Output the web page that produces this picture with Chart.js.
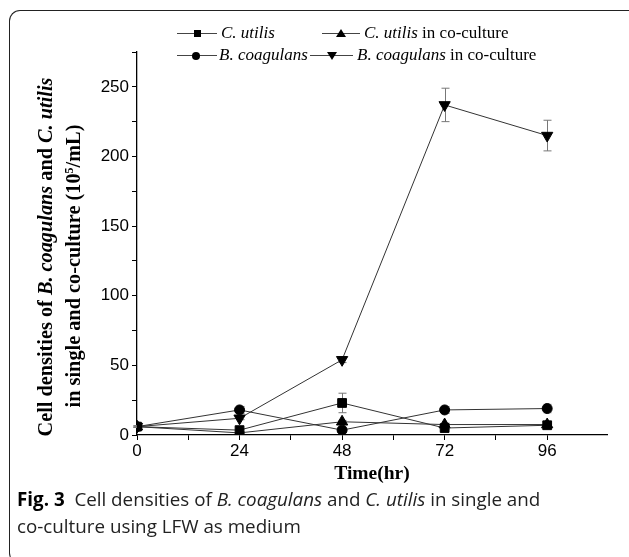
<!DOCTYPE html>
<html>
<head>
<meta charset="utf-8">
<script src="https://cdn.jsdelivr.net/npm/chart.js@4/dist/chart.umd.min.js"></script>
<style>
  html, body { margin: 0; padding: 0; background: #fff; }
  #wrap { position: relative; width: 629px; height: 557px; overflow: hidden; background: #fff; }
  #c { position: absolute; left: 0; top: 0; }
  .frame { position: absolute; left: 9px; top: 10px; width: 660px; height: 552px;
           border-left: 1.5px solid #222; border-top: 1.5px solid #222; border-bottom: 1.5px solid #222;
           border-top-left-radius: 11px; border-bottom-left-radius: 11px; }
  .leg { position: absolute; font-family: "Liberation Serif", "Times New Roman", serif; font-size: 17px; color: #000; white-space: nowrap; line-height: 1; }
  .legline { position: absolute; height: 1px; background: #444; }
  .mk { position: absolute; }
  .ytitle { position: absolute; font-family: "Liberation Serif", serif; font-weight: bold; font-size: 20.3px; color: #000;
            white-space: nowrap; transform: translate(-50%, -50%) rotate(-90deg); line-height: 1; }
  .xtitle { position: absolute; font-family: "Liberation Serif", serif; font-weight: bold; font-size: 19.5px; color: #000;
            white-space: nowrap; transform: translate(-50%, -50%); line-height: 1; }
  .cap { position: absolute; left: 17px; font-family: "Open Sans", "Noto Sans", sans-serif; font-size: 18.8px; color: #222;
         white-space: nowrap; line-height: 1; }
  sup { font-size: 12px; vertical-align: 7px; line-height: 0; }
</style>
</head>
<body>
<div id="wrap">
  <canvas id="c" width="629" height="557"></canvas>
  <div class="frame"></div>
  <div id="legend"></div>
  <div class="ytitle" style="left:45px; top:257px;">Cell densities of <i>B. coagulans</i> and <i>C. utilis</i></div>
  <div class="ytitle" style="left:73px; top:266px;">in single and co-culture (10<sup>5</sup>/mL)</div>
  <div class="xtitle" style="left:372px; top:473px;">Time(hr)</div>
  <div class="cap" style="top:490px;"><b style="color:#000">Fig. 3</b>&nbsp; Cell densities of <i>B. coagulans</i> and <i>C. utilis</i> in single and</div>
  <div class="cap" style="top:517px;">co-culture using LFW as medium</div>
</div>
<script>
// ---- data ----
const times = [0, 24, 48, 72, 96];
const seriesNames = ["C. utilis", "B. coagulans", "C. utilis in co-culture", "B. coagulans in co-culture"];
const cUtilis = [6, 3.5, 23, 5, 7];
const cUtilisErr = [0.5, 1, 7, 1, 1];
const bCoag = [6, 18, 3.5, 18, 19];
const bCoagErr = [0.5, 2.5, 1, 2.5, 3];
const cUtilisCo = [6, 1.5, 9.5, 7.5, 7.5];
const cUtilisCoErr = [0, 0.5, 1, 1, 1];
const bCoagCo = [6, 12, 54, 237, 215];
const bCoagCoErr = [0.5, 1, 2, 12, 11];
const yTickLabels = [0, 50, 100, 150, 200, 250];
const xTickLabels = [0, 24, 48, 72, 96];

const pts = vals => times.map((t, i) => ({ x: t, y: vals[i] }));
const base = { borderColor: '#333', borderWidth: 1, pointBackgroundColor: '#000', pointBorderColor: '#000',
               pointBorderWidth: 1, tension: 0, fill: false };

const datasets = [
  Object.assign({}, base, { label: seriesNames[0], data: pts(cUtilis), err: cUtilisErr, pointStyle: 'rect', pointRadius: 6.2 }),
  Object.assign({}, base, { label: seriesNames[1], data: pts(bCoag), err: bCoagErr, pointStyle: 'circle', pointRadius: 5 }),
  Object.assign({}, base, { label: seriesNames[2], data: pts(cUtilisCo), err: cUtilisCoErr, pointStyle: 'triangle', pointRadius: 6.5 }),
  Object.assign({}, base, { label: seriesNames[3], data: pts(bCoagCo), err: bCoagCoErr, pointStyle: 'triangle', pointRotation: 180, pointRadius: 6.5 })
];

const errorBars = {
  id: 'errorBars',
  beforeDatasetsDraw(chart) {
    const ctx = chart.ctx, xs = chart.scales.x, ys = chart.scales.y;
    ctx.save();
    ctx.strokeStyle = '#777';
    ctx.lineWidth = 1;
    chart.data.datasets.forEach(ds => {
      ds.data.forEach((p, j) => {
        const e = ds.err[j];
        if (!e) return;
        const x = Math.round(xs.getPixelForValue(p.x)) + 0.5;
        const yt = ys.getPixelForValue(p.y + e), yb = ys.getPixelForValue(p.y - e);
        ctx.beginPath();
        ctx.moveTo(x, yt); ctx.lineTo(x, yb);
        ctx.moveTo(x - 4, yt); ctx.lineTo(x + 4, yt);
        ctx.moveTo(x - 4, yb); ctx.lineTo(x + 4, yb);
        ctx.stroke();
      });
    });
    ctx.restore();
  }
};

new Chart(document.getElementById('c'), {
  type: 'line',
  data: { datasets },
  plugins: [errorBars],
  options: {
    responsive: false,
    animation: false,
    devicePixelRatio: 1,
    layout: { padding: { top: 52, right: 22, left: 0, bottom: 0 } },
    plugins: { legend: { display: false }, tooltip: { enabled: false } },
    scales: {
      x: {
        type: 'linear', min: 0, max: 110,
        afterBuildTicks: s => { s.ticks = s.ticks.filter(t => t.value % 12 === 0); },
        afterFit: s => { s.height = 122; },
        ticks: { stepSize: 12, autoSkip: false, maxRotation: 0, padding: 1,
                 callback: v => xTickLabels.includes(v) ? String(v) : '',
                 font: { family: 'Liberation Sans', size: 17 }, color: '#000' },
        grid: { drawOnChartArea: false, drawTicks: true, tickLength: 5, color: '#000', tickWidth: 1 },
        border: { color: '#000', width: 1.3 }
      },
      y: {
        type: 'linear', min: 0, max: 275,
        afterFit: s => { s.width = 137; },
        ticks: { stepSize: 25, autoSkip: false, padding: 3,
                 callback: v => yTickLabels.includes(v) ? String(v) : '',
                 font: { family: 'Liberation Sans', size: 17 }, color: '#000' },
        grid: { drawOnChartArea: false, drawTicks: true, tickLength: 5, color: '#000', tickWidth: 1 },
        border: { color: '#000', width: 1.3 }
      }
    }
  }
});

// ---- HTML legend ----
const legItems = [
  { name: '<i>C. utilis</i>', mk: 'sq', y: 33, l1: 177, l2: 217, m: 197, t: 221 },
  { name: '<i>C. utilis</i> in co-culture', mk: 'tu', y: 33, l1: 322, l2: 360, m: 341, t: 364 },
  { name: '<i>B. coagulans</i>', mk: 'ci', y: 55, l1: 177, l2: 217, m: 196, t: 219 },
  { name: '<i>B. coagulans</i> in co-culture', mk: 'td', y: 55, l1: 310, l2: 353, m: 332, t: 357 }
];
const leg = document.getElementById('legend');
legItems.forEach(it => {
  const ln = document.createElement('div');
  ln.className = 'legline';
  ln.style.cssText = `left:${it.l1}px;top:${it.y}px;width:${it.l2 - it.l1}px;`;
  leg.appendChild(ln);
  const m = document.createElement('div');
  m.className = 'mk';
  if (it.mk === 'sq') m.style.cssText = `left:${it.m - 3.5}px;top:${it.y - 3}px;width:7px;height:7px;background:#000;`;
  if (it.mk === 'ci') m.style.cssText = `left:${it.m - 4}px;top:${it.y - 3.5}px;width:8px;height:8px;background:#000;border-radius:50%;`;
  if (it.mk === 'tu') m.style.cssText = `left:${it.m - 5}px;top:${it.y - 4.5}px;width:0;height:0;border-left:5px solid transparent;border-right:5px solid transparent;border-bottom:8px solid #000;`;
  if (it.mk === 'td') m.style.cssText = `left:${it.m - 5}px;top:${it.y - 3.5}px;width:0;height:0;border-left:5px solid transparent;border-right:5px solid transparent;border-top:8px solid #000;`;
  leg.appendChild(m);
  const t = document.createElement('div');
  t.className = 'leg';
  t.style.cssText = `left:${it.t}px;top:${it.y - 9}px;`;
  t.innerHTML = it.name;
  leg.appendChild(t);
});
</script>
</body>
</html>
